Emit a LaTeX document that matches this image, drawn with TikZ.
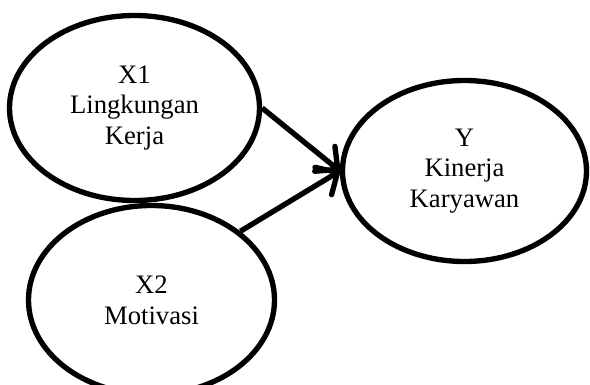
\documentclass[tikz,border=0pt]{standalone}
\usepackage{fontspec}
\setmainfont{Liberation Serif}
\usetikzlibrary{arrows.meta,shapes.geometric}
\begin{document}
\begin{tikzpicture}[x=0.75pt,y=-0.75pt,
  latent/.style={ellipse,draw=black,line width=4pt,inner sep=0pt,align=center,
    font=\fontsize{20}{23}\selectfont},
  link/.style={line width=4pt,-{Straight Barb[length=12.5pt,width=24pt,round]}}]
\useasboundingbox (0,0) rectangle (590,385);
\clip (0,0) rectangle (590,385);
\fill[white] (0,0) rectangle (590,385);
\node[latent,minimum width=187.5pt,minimum height=138.75pt] (x1) at (134.5,108) {X1\\Lingkungan\\Kerja};
\node[latent,minimum width=184.5pt,minimum height=141.75pt] (x2) at (151.5,300) {X2\\Motivasi};
\node[latent,minimum width=183pt,minimum height=135.75pt] (y) at (464.5,171) {Y\\Kinerja\\Karyawan};
\draw[link] (x1.east) -- (y.west);
\draw[link] (x2.north east) -- (y.west);
\end{tikzpicture}
\end{document}
